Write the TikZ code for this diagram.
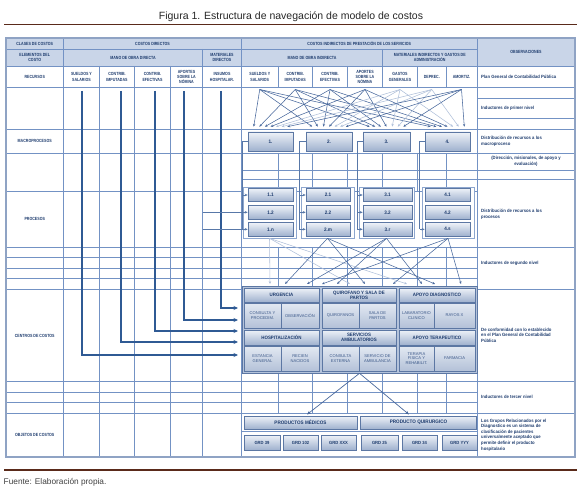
\documentclass[tikz,border=0pt]{standalone}
\usepackage{fontspec}
\setmainfont{Liberation Sans}
\newfontfamily\cf[FakeStretch=0.8]{Liberation Sans}
\newfontfamily\of[FakeStretch=0.92]{Liberation Sans}
\newfontfamily\hf[FakeStretch=0.92]{Liberation Sans}
\usetikzlibrary{arrows.meta}
\definecolor{gridc}{HTML}{7392C4}
\definecolor{bordc}{HTML}{8FA3C4}
\definecolor{headf}{HTML}{C9D5E8}
\definecolor{navy}{HTML}{1E3C6E}
\definecolor{darkl}{HTML}{2F5A94}
\definecolor{brownc}{HTML}{5A2A1A}
\definecolor{boxb}{HTML}{5C77A3}
\definecolor{boxt}{HTML}{EEF2F8}
\definecolor{boxbt}{HTML}{9FB1CE}
\definecolor{framec}{HTML}{8EA7CF}
\definecolor{indd}{HTML}{48689C}
\definecolor{indl}{HTML}{AFBFD9}
\definecolor{blockf}{HTML}{B4C3DB}
\definecolor{subt}{HTML}{E3E9F2}
\definecolor{subb}{HTML}{B3C1D8}
\definecolor{subtext}{HTML}{3A5788}
\definecolor{connc}{HTML}{5878A8}
\begin{document}
\begin{tikzpicture}[x=1pt,y=-1pt,
  gridl/.style={draw=gridc, line width=0.45pt},
  lab/.style={font=\cf\bfseries\fontsize{4.5}{5.1}\selectfont, text=navy, align=center, inner sep=0pt},
  obs/.style={font=\of\bfseries\fontsize{4.6}{5.6}\selectfont, text=navy, align=left, anchor=west, inner sep=0pt},
  gbox/.style={draw=boxb, line width=0.6pt, top color=boxt, bottom color=boxbt, inner sep=0pt,
     font=\hf\bfseries\fontsize{5}{6}\selectfont, text=navy, align=center},
  gframe/.style={draw=framec, line width=0.7pt, fill=white, inner sep=0pt},
  blockframe/.style={draw=boxb, line width=0.6pt, fill=blockf, inner sep=0pt},
  chead/.style={gbox, font=\hf\bfseries\fontsize{4.8}{5.3}\selectfont},
  csub/.style={draw=boxb, line width=0.4pt, top color=subt, bottom color=subb, inner sep=0pt,
     font=\fontsize{4.1}{4.8}\selectfont, text=subtext, align=center},
  costl/.style={draw=darkl, line width=1.3pt, -{Stealth[length=4.5pt,width=4pt]}},
  conn/.style={draw=connc, line width=0.7pt},
  conna/.style={conn, -{Stealth[length=3pt,width=2.6pt]}},
  ind/.style={line width=0.55pt, -{Stealth[length=2.8pt,width=2.4pt]}},
  ind3/.style={draw=indd, line width=0.7pt, -{Stealth[length=4pt,width=3.4pt]}}
]
\useasboundingbox (0,0) rectangle (578,489);
% title and rules
\node[font=\fontsize{10.5}{12}\selectfont, text=black!85, inner sep=0pt] (title) at (291,16.5) {Figura 1. Estructura de navegación de modelo de costos};
\draw[brownc, line width=1.1pt] (4,24.5) -- (577,24.5);
\draw[brownc, line width=1.1pt] (4,470) -- (577,470);
\node[font=\fontsize{8.3}{9}\selectfont, text=black!75, anchor=west, inner sep=0pt] (fuente) at (3.5,482) {Fuente: Elaboración propia.};
% header fill
\fill[headf] (6,38) rectangle (575,66);
% left section grid
\foreach \yy in {49,66,87.5,129,153,191,247,257.5,268,278.5,289,381,392,402.5,413}
  \draw[gridl] (6,\yy) -- (241.5,\yy);
\draw[gridl] (63.5,38) -- (63.5,457);
\draw[gridl] (241.5,38) -- (241.5,457);
\draw[gridl] (202.5,49) -- (202.5,457);
\foreach \xx in {99.5,134.5,170.5} \draw[gridl] (\xx,66) -- (\xx,457);
% middle section grid
\foreach \yy in {49,66,87.5,129,153,170,179.5,191,247,257.5,268,278.5,289,381,392,402.5,413,431}
  \draw[gridl] (241.5,\yy) -- (477,\yy);
\draw[gridl] (382.5,49) -- (382.5,66);
\foreach \xx in {278,312.5,347.5,382.5,417.5,446} {
  \draw[gridl] (\xx,66) -- (\xx,87.5);
  \draw[gridl] (\xx,153) -- (\xx,191);
  \draw[gridl] (\xx,247) -- (\xx,413);
}
\draw[gridl] (477,38) -- (477,457);
% right section grid
\foreach \yy in {66,87.5,98.5,118.5,129,153,170,179.5,247,289,381,413}
  \draw[gridl] (477,\yy) -- (575,\yy);
% outer border
\draw[bordc, line width=1.5pt] (6,38) rectangle (575,457);
% header texts
\node[lab] (hc1) at (34.75,43.7) {CLASES DE COSTOS};
\node[lab] (hc2) at (152.5,43.7) {COSTOS DIRECTOS};
\node[lab] (hc3) at (359.25,43.7) {COSTOS INDIRECTOS DE PRESTACIÓN DE LOS SERVICIOS};
\node[lab] (hobs) at (526,52) {OBSERVACIONES};
\node[lab] (he1) at (34.75,57.5) {ELEMENTOS DEL\\COSTO};
\node[lab] (he2) at (133,57.5) {MANO DE OBRA DIRECTA};
\node[lab] (he3) at (222,57.5) {MATERIALES\\DIRECTOS};
\node[lab] (he4) at (312,57.5) {MANO DE OBRA INDIRECTA};
\node[lab] (he5) at (429.75,57.5) {MATERIALES INDIRECTOS Y GASTOS DE\\ADMINISTRACIÓN};
\node[lab] (r0) at (34.75,77) {RECURSOS};
\node[lab] (r1) at (81.5,77) {SUELDOS Y\\SALARIOS};
\node[lab] (r2) at (117,77) {CONTRIB.\\IMPUTADAS};
\node[lab] (r3) at (152.5,77) {CONTRIB.\\EFECTIVAS};
\node[lab] (r4) at (186.5,77) {APORTES\\SOBRE LA\\NÓMINA};
\node[lab] (r5) at (222,77) {INSUMOS\\HOSPITALAR.};
\node[lab] (q1) at (259.75,77) {SUELDOS Y\\SALARIOS};
\node[lab] (q2) at (295.25,77) {CONTRIB.\\IMPUTADAS};
\node[lab] (q3) at (330,77) {CONTRIB.\\EFECTIVAS};
\node[lab] (q4) at (365,77) {APORTES\\SOBRE LA\\NÓMINA};
\node[lab] (q5) at (400,77) {GASTOS\\GENERALES};
\node[lab] (q6) at (431.75,77) {DEPREC.};
\node[lab] (q7) at (461.5,77) {AMORTIZ.};
% left labels
\node[lab] (lmac) at (34.75,141) {MACROPROCESOS};
\node[lab] (lpro) at (34.75,219) {PROCESOS};
\node[lab] (lcen) at (34.75,336) {CENTROS DE COSTOS};
\node[lab] (lobj) at (34.75,435) {OBJETOS DE COSTOS};
% observations
\node[obs] (o1) at (481,77) {Plan General de Contabilidad Pública};
\node[obs] (o2) at (481,108.5) {Inductores de primer nivel};
\node[obs] (o3) at (481,141) {Distribución de recursos a los\\macroproceso};
\node[obs, anchor=center, align=center] (o4) at (526,161.5) {(Dirección, misionales, de apoyo y\\evaluación)};
\node[obs] (o5) at (481,214) {Distribución de recursos a los\\procesos};
\node[obs] (o6) at (481,263) {Inductores de segundo nivel};
\node[obs] (o7) at (481,335) {De conformidad con lo establecido\\en el Plan General de Contabilidad\\Pública};
\node[obs] (o8) at (481,397) {Inductores de tercer nivel};
\node[obs] (o9) at (481,435) {Los Grupos Relacionados por el\\Diagnostico es un sistema de\\clasificación de pacientes\\universalmente aceptado que\\permite definir el producto\\hospitalario};
% direct cost lines
\foreach \i/\xx/\yy in {1/82/355, 2/121/342, 3/155/331, 4/184/320, 5/221/308} {
  \coordinate (ta\i) at (\xx,91);
  \coordinate (tb\i) at (238,\yy);
  \draw[costl] (ta\i) |- (tb\i);
}
% process group frames
\node[gframe, minimum width=53, minimum height=51] (g1) at (269.5,212.5) {};
\node[gframe, minimum width=53, minimum height=51] (g2) at (327.5,212.5) {};
\node[gframe, minimum width=55, minimum height=51] (g3) at (386.5,212.5) {};
\node[gframe, minimum width=52, minimum height=51] (g4) at (448,212.5) {};
% macro boxes
\node[gbox, minimum width=45, minimum height=19] (m1) at (270.5,141.5) {1.};
\node[gbox, minimum width=46, minimum height=19] (m2) at (329,141.5) {2.};
\node[gbox, minimum width=47, minimum height=19] (m3) at (386.5,141.5) {3.};
\node[gbox, minimum width=45, minimum height=19] (m4) at (447.5,141.5) {4.};
% process boxes
\foreach \n/\cx/\w/\la/\lb/\lc in {1/270.5/45/1.1/1.2/1.n, 2/328/44/2.1/2.2/2.m, 3/387.5/49/3.1/3.2/3.r, 4/447.5/45/4.1/4.2/4.s} {
  \node[gbox, minimum width=\w, minimum height=13.4] (p\n a) at (\cx,195) {\la};
  \node[gbox, minimum width=\w, minimum height=13.4] (p\n b) at (\cx,212.3) {\lb};
  \node[gbox, minimum width=\w, minimum height=13.4] (p\n c) at (\cx,229.3) {\lc};
}
% macro -> process connectors
\coordinate (k1) at (242,229.3);
\coordinate (k2) at (299,229.3);
\coordinate (k3) at (357,229.3);
\coordinate (k4) at (419.5,229.3);
\draw[conn] (m1.west) -| (k1);
\draw[conn] (m2.west) -| (k2);
\draw[conn] (m3.west) -| (k3);
\draw[conn] (m4.west) -| (k4);
\foreach \n in {1,2,3} {
  \foreach \r in {a,b,c} \draw[conna] (p\n\r.west -| k\n) -- (p\n\r.west);
}
\draw[conna] (p4c.west -| k4) -- (p4c.west);
\coordinate (e1) at (202.5,212.3);
\coordinate (e2) at (202.5,229.3);
\draw[conn] (e1) -- (p1b.west -| k1);
\draw[conn] (e2) -- (p1c.west -| k1);
% first level inductors
\foreach \j/\sx/\cl in {1/259.75/indd, 2/295.25/indd, 3/330/indd, 4/365/indd, 5/400/indl, 6/431.75/indl, 7/461.5/indd} {
  \coordinate (src\j) at (\sx,89.5);
  \foreach \k in {1,2,3,4} {
    \pgfmathsetmacro\dx{(\j-4)*5.6}
    \draw[ind, draw=\cl] (src\j) -- ([xshift=\dx pt, yshift=5pt]m\k.north);
  }
}
% cost centre block
\node[blockframe, minimum width=235, minimum height=87] (block) at (359.5,329.5) {};
\node[chead, minimum width=75, minimum height=14] (ca1) at (281.5,295) {URGENCIA};
\node[csub, minimum width=37, minimum height=25] (ca2) at (262.5,315.5) {CONSULTA Y\\PROCEDIM.};
\node[csub, minimum width=38, minimum height=25] (ca3) at (300,315.5) {OBSERVACIÓN};
\node[chead, minimum width=74, minimum height=14] (cb1) at (359,295) {QUIROFANO Y SALA DE\\PARTOS};
\node[csub, minimum width=37, minimum height=25] (cb2) at (340.5,315.5) {QUIROFANOS};
\node[csub, minimum width=37, minimum height=25] (cb3) at (377.5,315.5) {SALA DE\\PARTOS};
\node[chead, minimum width=76, minimum height=14] (cc1) at (437,295) {APOYO DIAGNOSTICO};
\node[csub, minimum width=35, minimum height=25] (cc2) at (416.5,315.5) {LABARATORIO\\CLINICO};
\node[csub, minimum width=41, minimum height=25] (cc3) at (454.5,315.5) {RAYOS X};
\node[chead, minimum width=75, minimum height=15] (cd1) at (281.5,337.5) {HOSPITALIZACIÓN};
\node[csub, minimum width=37, minimum height=25] (cd2) at (262.5,358.5) {ESTANCIA\\GENERAL};
\node[csub, minimum width=38, minimum height=25] (cd3) at (300,358.5) {RECIEN\\NACIDOS};
\node[chead, minimum width=74, minimum height=15] (ce1) at (359,337.5) {SERVICIOS\\AMBULATORIOS};
\node[csub, minimum width=37, minimum height=25] (ce2) at (340.5,358.5) {CONSULTA\\EXTERNA};
\node[csub, minimum width=37, minimum height=25] (ce3) at (377.5,358.5) {SERVICIO DE\\AMBULANCIA};
\node[chead, minimum width=76, minimum height=15] (cf1) at (437,337.5) {APOYO TERAPEUTICO};
\node[csub, minimum width=35, minimum height=25] (cf2) at (416.5,358.5) {TERAPIA\\FISICA Y\\REHABILIT.};
\node[csub, minimum width=41, minimum height=25] (cf3) at (454.5,358.5) {FARMACIA};
% second level inductors
\foreach \s/\t/\cl in {g1/270/indl, g1/350/indl, g1/407/indl, g2/285/indd, g2/365/indd, g2/435/indd,
                       g3/307/indd, g3/337/indd, g3/422/indd, g4/322/indd, g4/393/indd, g4/461/indd} {
  \coordinate (tt) at (\t,284);
  \draw[ind, draw=\cl] (\s.south) -- (tt);
}
% objects of cost
\node[gbox, minimum width=113, minimum height=13] (pm) at (300.5,422.5) {PRODUCTOS MÉDICOS};
\node[gbox, minimum width=116, minimum height=13] (pq) at (418.5,422.5) {PRODUCTO QUIRURGICO};
\foreach \n/\cx/\w/\t in {1/262/36/GRD 39, 2/300.5/35/GRD 102, 3/338.5/35/GRD XXX, 4/379.5/37/GRD 25, 5/419.5/35/GRD 34, 6/459.5/35/GRD YYY} {
  \node[gbox, minimum width=\w, minimum height=15, font=\hf\bfseries\fontsize{4.5}{5}\selectfont] (grd\n) at (\cx,442.5) {\t};
}
% third level inductors
\coordinate (pmtip) at (307,414.5);
\coordinate (pqtip) at (409,414.5);
\draw[ind3] (block.south) -- (pmtip);
\draw[ind3] (block.south) -- (pqtip);
\end{tikzpicture}
\end{document}
